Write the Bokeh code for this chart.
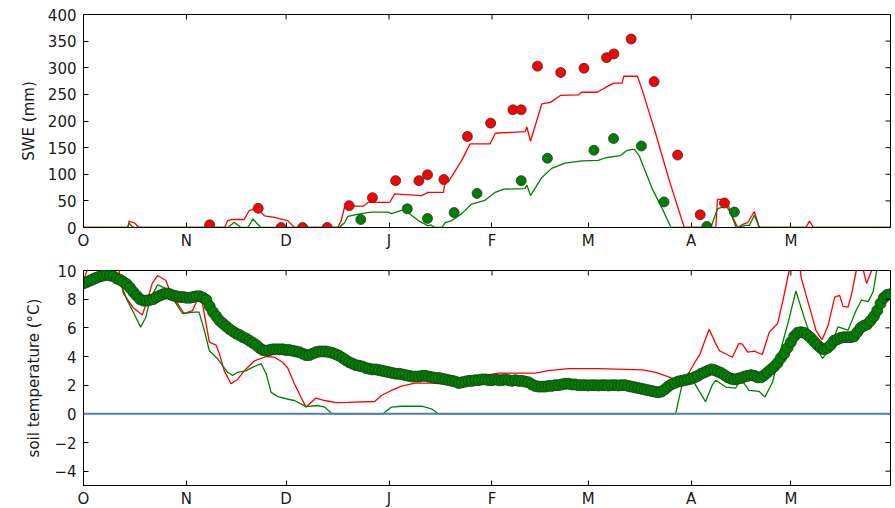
import math
from bokeh.plotting import figure
from bokeh.layouts import column
from bokeh.models import FixedTicker, Range1d, Span
from bokeh.embed import file_html
from bokeh.resources import INLINE

# ---- x axis: days since 1 October (leap year) ----
month_ticks = [0, 31, 61, 92, 123, 152, 183, 213]
month_labels = ["O", "N", "D", "J", "F", "M", "A", "M"]
x_end = 243

# ---- SWE (mm): model lines ----
swe_red_day = [0, 13.5, 13.7, 15.5, 16.7, 36.4, 37, 38.5, 39.3, 42.5, 43.4, 44.5, 48.4, 49.9, 52.5,
               54.5, 57.5, 61.5, 63.5, 76.6, 77.6, 78.6, 79.6, 84.2, 85.7, 92.2, 93.7, 101.8, 103.8,
               108.4, 108.9, 109.9, 113.9, 116.4, 122.4, 124, 133, 133.5, 134.6, 138, 140.6, 143.6,
               149.1, 150, 154.7, 157.2, 159.7, 162.2, 162.7, 166.8, 168.3, 172.3, 176.4, 180.9,
               190.4, 190.9, 193.5, 195.5, 197, 198.5, 200, 202, 203.5, 217.5, 218.6, 219.8, 243]
swe_red_val = [0, 0, 12, 8, 0, 0, 8, 10, 0, 0, 13, 15, 15, 32, 35,
               22, 19, 13, 0, 0, 13, 38, 40, 40, 47, 47, 63, 60, 66,
               66, 88, 86, 126, 157, 157, 177, 180, 189, 162, 232, 235, 248,
               249, 254, 254, 263, 271, 271, 284, 284, 257, 176, 88, 0,
               0, 53, 53, 19, 0, 6, 9, 30, 0, 0, 12, 0, 0]

swe_green_day = [0, 13.2, 13.7, 15, 37, 38, 39.3, 43.5, 45.4, 47.4, 49.5, 51, 53.4, 77, 78.6, 79.6,
                 83.6, 86.7, 91.7, 92.7, 95.7, 96.7, 100.8, 103.8, 104.5, 105.8, 107.9, 108.9, 110.9,
                 113.9, 116.9, 120.9, 124, 126.5, 133, 133.5, 134.6, 138, 141, 145, 150.1, 155, 157.2,
                 161.7, 163.7, 165.8, 167.3, 171.3, 174.3, 176.9, 188.9, 190.9, 193.5, 195, 196.5,
                 199.5, 200.5, 202, 203.5, 243]
swe_green_val = [0, 0, 8, 0, 0, 6, 0, 0, 10, 0, 0, 16, 0, 0, 9, 21,
                 26, 29, 29, 26, 32, 33, 13, 3, 5, 0, 0, 9, 13,
                 26, 44, 51, 66, 72, 73, 80, 60, 94, 111, 121, 125, 126, 131,
                 135, 145, 147, 135, 72, 35, 0, 0, 35, 41, 26, 0,
                 4, 4, 23, 0, 0]

# ---- SWE (mm): observations ----
obs_red_day = [38, 52.6, 59.5, 66, 73.4, 80, 87, 94, 101, 103.6, 108.5, 115.6, 122.6, 129.3, 131.8,
               136.7, 143.7, 150.7, 157.5, 159.7, 164.9, 171.8, 178.9, 185.7, 193]
obs_red_val = [5, 36, 0, 0, 0, 41, 56, 88, 88, 99, 90, 171, 196, 221, 221,
               303, 291, 299, 319, 326, 354, 274, 136, 24, 46]
obs_green_day = [83.5, 97.5, 103.6, 111.6, 118.5, 131.8, 139.7, 153.7, 159.6, 168, 174.8, 187.7, 196]
obs_green_val = [15, 35, 17, 28, 64, 88, 130, 145, 167, 153, 48, 2, 29]

# ---- soil temperature (deg C): model lines ----
soil_red_day = [0, 1.5, 3, 9, 10.5, 12, 15, 17.7, 19.2, 20.7, 22.3, 24.8, 26.8, 28.3, 30.3, 32.8,
                33.8, 34.8, 35.8, 36.9, 37.9, 39.9, 40.9, 42.4, 44.4, 46.4, 48.4, 51.5, 55, 57.5,
                60, 61.5, 63.5, 65.5, 67, 70, 72.6, 76, 79.6, 87.7, 89.7, 92.7, 95.8, 99.8, 104.8,
                109.9, 113.9, 119.9, 125, 136, 140, 146, 155, 168.3, 172.3, 176.4, 178.4, 180.5,
                182.4, 184.4, 185.5, 188.4, 190.4, 191.5, 195.4, 197.3, 198.3, 200, 202, 204.4,
                206.5, 209, 210.6, 212.5, 213.5, 215, 216.1, 218.6, 220.6, 222.4, 224.2, 226.2,
                227.7, 228.7, 230.2, 231.2, 232.7, 234, 235.8, 237.3, 239, 243]
soil_red_val = [9.3, 10.3, 11, 11, 10.2, 8.4, 7.4, 6.9, 7.9, 9.1, 9.65, 9.3, 8.1, 7.7, 7.0, 7.2,
                7.7, 8.3, 7.7, 6.3, 5.0, 4.8, 4.2, 3.0, 2.1, 2.4, 3.0, 3.7, 4.0, 3.95,
                3.6, 3.2, 2.1, 1.16, 0.47, 1.1, 0.93, 0.78, 0.8, 0.86, 1.28, 1.63, 1.93, 2.14, 2.14,
                2.05, 2.33, 2.65, 2.84, 2.84, 3.02, 3.16, 3.16, 3.07, 2.9, 2.56, 2.33, 2.15,
                2.9, 3.72, 4.1, 5.9, 4.88, 4.4, 3.95, 4.9, 4.88, 4.3, 4.37, 4.14,
                5.7, 6.3, 7.9, 10.0, 11, 11.5, 9.5, 7.44, 5.8, 5.16, 6.16, 8.14,
                8.26, 7.5, 7.44, 8.26, 10.0, 10.8, 9.1, 10.0, 11, 12]

soil_green_day = [0, 3, 6, 9, 11.2, 13.2, 15.2, 17.2, 18.7, 20.2, 22.3, 24.3, 27.3, 29.8, 33.3,
                  34.8, 36.4, 37.9, 40.4, 43.4, 44.9, 46.4, 48.9, 51, 53.5, 55, 56.5, 58.5, 62,
                  63.5, 67, 70.6, 72.6, 74.6, 75.5, 90.2, 92.7, 95.8, 101.8, 104.8, 106.8, 178.3,
                  180.2, 182.3, 184.3, 187.3, 189.3, 190.4, 193.4, 196.4, 197.9, 200.4, 203.4,
                  205.2, 207.5, 209.5, 212.5, 214.5, 217.1, 219.6, 222.6, 225.2, 227.2, 230.2,
                  232.7, 234.3, 236.3, 237.8, 238.8, 240, 243]
soil_green_val = [9.4, 9.8, 9.9, 9.6, 9.07, 7.9, 7.0, 6.05, 6.7, 8.1, 9.0, 8.8, 7.9, 7.0, 7.1,
                  7.1, 5.8, 4.4, 3.84, 2.9, 2.67, 2.9, 3.0, 3.26, 3.5, 2.8, 1.5, 1.2, 1.0,
                  0.93, 0.5, 0.58, 0.47, 0.05, 0, 0, 0.47, 0.53, 0.53, 0.35, 0, 0,
                  2.0, 2.9, 2.0, 0.85, 2.0, 2.34, 1.87, 1.8, 2.45, 1.64, 1.57,
                  1.17, 2.22, 4.09, 6.66, 8.57, 6.66, 5.0, 3.86, 4.79, 6.07, 5.84,
                  7.24, 7.94, 7.83, 8.53, 9.93, 11, 12]

# ---- soil temperature (deg C): daily observations, day 0 .. 243 ----
soil_obs = [9.1, 9.2, 9.3, 9.4, 9.5, 9.6, 9.65, 9.7, 9.65, 9.6,
            9.45, 9.35, 9.2, 9.05, 8.8, 8.5, 8.25, 8.0, 7.9, 7.9,
            7.95, 8.0, 8.15, 8.25, 8.35, 8.4, 8.35, 8.25, 8.2, 8.15,
            8.15, 8.1, 8.1, 8.15, 8.2, 8.2, 8.1, 7.95, 7.5, 7.1,
            6.8, 6.5, 6.3, 6.1, 5.9, 5.75, 5.6, 5.5, 5.35, 5.25,
            5.1, 4.95, 4.8, 4.6, 4.45, 4.4, 4.45, 4.5, 4.5, 4.5,
            4.5, 4.45, 4.45, 4.4, 4.35, 4.3, 4.2, 4.1, 4.1, 4.2,
            4.3, 4.35, 4.35, 4.35, 4.3, 4.25, 4.15, 4.05, 3.9, 3.75,
            3.6, 3.5, 3.4, 3.35, 3.3, 3.2, 3.15, 3.1, 3.1, 3.05,
            3.0, 2.95, 2.9, 2.85, 2.8, 2.8, 2.75, 2.7, 2.65, 2.6,
            2.6, 2.6, 2.65, 2.65, 2.6, 2.55, 2.5, 2.5, 2.45, 2.4,
            2.35, 2.3, 2.25, 2.15, 2.2, 2.25, 2.3, 2.3, 2.35, 2.35,
            2.4, 2.4, 2.35, 2.35, 2.4, 2.35, 2.35, 2.4, 2.35, 2.3,
            2.35, 2.3, 2.3, 2.25, 2.2, 2.05, 1.95, 1.9, 1.9, 1.9,
            1.95, 1.95, 2.0, 2.0, 2.05, 2.1, 2.1, 2.05, 2.05, 2.0,
            2.0, 2.0, 1.98, 2.0, 2.0, 1.98, 2.0, 2.0, 1.98, 2.0,
            2.0, 1.98, 2.0, 2.0, 1.95, 1.9, 1.85, 1.8, 1.75, 1.7,
            1.65, 1.6, 1.55, 1.5, 1.55, 1.7, 1.9, 2.05, 2.15, 2.25,
            2.3, 2.35, 2.4, 2.45, 2.55, 2.65, 2.8, 2.9, 3.0, 3.1,
            3.05, 2.95, 2.85, 2.7, 2.55, 2.45, 2.4, 2.45, 2.5, 2.6,
            2.65, 2.7, 2.65, 2.55, 2.55, 2.7, 2.9, 3.1, 3.3, 3.55,
            3.9, 4.2, 4.6, 5.0, 5.4, 5.65, 5.7, 5.65, 5.5, 5.3,
            5.05, 4.8, 4.6, 4.5, 4.6, 4.8, 5.1, 5.2, 5.3, 5.35,
            5.35, 5.35, 5.4, 5.7, 6.0, 6.15, 6.25, 6.5, 6.8, 7.2,
            7.7, 8.1, 8.3, 8.35]
soil_obs_day = list(range(len(soil_obs)))

swe_ticks = [0, 50, 100, 150, 200, 250, 300, 350, 400]
temp_ticks = [-4, -2, 0, 2, 4, 6, 8, 10]

FONT = "DejaVu Sans"
FS = "15px"
RED = "#ff0000"
GREEN = "#008000"


def style(p, yticks, ylabel, label_standoff, ymax):
    p.xgrid.visible = False
    p.ygrid.visible = False
    p.outline_line_color = "black"
    p.outline_line_width = 1
    p.outline_line_alpha = 1
    p.background_fill_color = "white"
    p.border_fill_color = "white"
    xa = p.xaxis[0]
    ya = p.yaxis[0]
    xa.ticker = FixedTicker(ticks=month_ticks)
    xa.major_label_overrides = {t: l for t, l in zip(month_ticks, month_labels)}
    ya.ticker = FixedTicker(ticks=yticks)
    for ax in (xa, ya):
        ax.major_tick_in = 5
        ax.major_tick_out = 0
        ax.minor_tick_line_color = None
        ax.major_label_text_font = FONT
        ax.major_label_text_font_size = FS
        ax.major_label_text_color = "#1a1a1a"
        ax.axis_line_color = "black"
        ax.major_tick_line_color = "black"
    xa.major_label_standoff = 4
    ya.major_label_standoff = 7
    ya.axis_label = ylabel
    ya.axis_label_text_font = FONT
    ya.axis_label_text_font_size = FS
    ya.axis_label_text_font_style = "normal"
    ya.axis_label_text_color = "#1a1a1a"
    ya.axis_label_standoff = label_standoff
    # inward ticks on the top and right edges (outer half is clipped by the frame)
    p.scatter(month_ticks, [ymax] * len(month_ticks), marker="dash", angle=math.pi / 2,
              size=10, line_color="black", line_width=1)
    p.scatter([x_end] * len(yticks), yticks, marker="dash", size=10,
              line_color="black", line_width=1)


p1 = figure(frame_width=807, frame_height=213, x_range=Range1d(0, x_end), y_range=Range1d(0, 400),
            output_backend="svg", toolbar_location=None,
            min_border_left=83, min_border_right=5, min_border_top=14, min_border_bottom=20)
p1.line(swe_red_day, swe_red_val, line_color=RED, line_width=1.3)
p1.line(swe_green_day, swe_green_val, line_color=GREEN, line_width=1.3)
p1.scatter(obs_red_day, obs_red_val, size=10, fill_color=RED, line_color="#333333", line_width=0.8)
p1.scatter(obs_green_day, obs_green_val, size=10, fill_color=GREEN, line_color="#333333", line_width=0.8)
style(p1, swe_ticks, "SWE (mm)", 7, 400)

p2 = figure(frame_width=807, frame_height=215, x_range=Range1d(0, x_end), y_range=Range1d(-5, 10),
            output_backend="svg", toolbar_location=None,
            min_border_left=83, min_border_right=5, min_border_top=18, min_border_bottom=20)
p2.line(soil_red_day, soil_red_val, line_color=RED, line_width=1.3)
p2.line(soil_green_day, soil_green_val, line_color=GREEN, line_width=1.3)
p2.scatter(soil_obs_day, soil_obs, size=11, fill_color=GREEN, line_color="#1a3a1a", line_width=0.8)
p2.add_layout(Span(location=0, dimension="width", line_color="#4a7fc0", line_width=2))
style(p2, temp_ticks, "soil temperature (\u00b0C)", 8, 10)

layout = column(p1, p2, spacing=0)
open("out.html", "w").write(file_html(layout, INLINE))
